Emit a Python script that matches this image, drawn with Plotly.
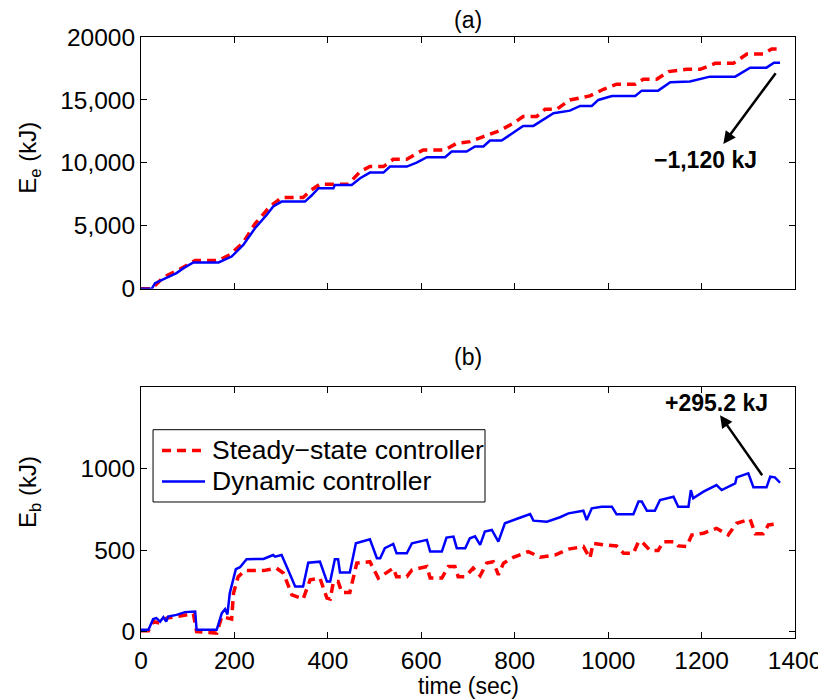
import plotly.graph_objects as go

# ---------------- data ----------------
# (a) cumulative electrical energy E_e (kJ)
t_ss_a = [0, 23, 48, 83, 116, 166, 190, 219, 244, 276, 301, 347, 365, 383, 444, 469, 490, 519, 540,
          569, 604, 651, 676, 704, 733, 768, 797, 818, 847, 865, 890, 918, 961, 990, 1018, 1058, 1075,
          1104, 1129, 1168, 1197, 1229, 1268, 1297, 1332, 1350, 1368]
E_ss_a = [0, 0, 925, 1560, 2250, 2250, 2700, 3680, 5160, 6535, 7250, 7250, 7860, 8310, 8310, 9310, 9710,
          9710, 10290, 10290, 11030, 11030, 11560, 11690, 12090, 12565, 13150, 13680, 13680, 14260, 14260,
          15000, 15320, 15850, 16250, 16250, 16640, 16640, 17250, 17430, 17430, 17910, 17910, 18650, 18650,
          19050, 19050]

t_dyn_a = [0, 23, 30, 48, 76, 91, 112, 166, 183, 194, 219, 244, 269, 283, 301, 351, 365, 380, 412, 415,
           451, 469, 490, 519, 533, 569, 590, 612, 651, 665, 697, 715, 733, 747, 772, 797, 818, 840, 865,
           883, 918, 940, 965, 979, 1008, 1058, 1072, 1107, 1133, 1175, 1218, 1272, 1304, 1339, 1355, 1368]
E_dyn_a = [0, 0, 450, 770, 1245, 1640, 2090, 2090, 2355, 2565, 3490, 4815, 5870, 6535, 6930, 6930, 7410,
           7990, 7990, 8255, 8255, 8785, 9230, 9230, 9710, 9710, 10025, 10450, 10450, 10900, 10900, 11300,
           11300, 11770, 11770, 12435, 12940, 12940, 13545, 13940, 14150, 14525, 14525, 15000, 15320, 15320,
           15740, 15740, 16400, 16460, 16850, 16850, 17565, 17565, 17960, 17960]

# (b) battery energy E_b (kJ)
t_ss_b = [0, 16, 26, 41, 55, 76, 112, 119, 162, 173, 183, 194, 198, 208, 223, 262, 290, 305, 323, 347,
          362, 383, 398, 405, 412, 422, 430, 447, 462, 490, 508, 519, 540, 547, 569, 580, 612, 619, 644,
          658, 672, 679, 694, 711, 726, 740, 754, 765, 776, 797, 829, 854, 886, 915, 947, 961, 968, 990,
          1018, 1033, 1054, 1065, 1072, 1090, 1107, 1118, 1143, 1150, 1168, 1179, 1204, 1232, 1257, 1275,
          1304, 1315, 1332, 1343, 1357]
E_ss_b = [5, 5, 61, 51, 82, 92, 109, 0, -10, 92, 85, 76, 235, 337, 374, 374, 389, 358, 225, 199, 317, 328,
          205, 199, 307, 307, 239, 239, 420, 429, 328, 348, 389, 337, 337, 378, 399, 328, 328, 399, 399,
          337, 337, 389, 342, 420, 429, 348, 420, 456, 491, 456, 470, 506, 522, 450, 542, 532, 526, 481,
          481, 552, 552, 497, 497, 552, 552, 526, 522, 593, 604, 634, 593, 665, 690, 600, 600, 655, 660]

t_dyn_b = [0, 16, 26, 33, 41, 48, 54, 58, 76, 94, 116, 119, 162, 173, 180, 185, 190, 203, 212, 226, 262,
           276, 283, 287, 301, 315, 330, 347, 358, 383, 398, 405, 415, 422, 426, 447, 460, 490, 505, 512,
           522, 540, 547, 569, 580, 612, 619, 644, 654, 669, 676, 694, 704, 715, 726, 736, 751, 765, 779,
           808, 833, 840, 869, 897, 915, 947, 954, 965, 986, 1008, 1018, 1054, 1065, 1072, 1083, 1100,
           1111, 1140, 1150, 1172, 1177, 1182, 1204, 1232, 1243, 1272, 1275, 1300, 1311, 1339, 1347, 1357,
           1368]
E_dyn_b = [10, 10, 76, 82, 61, 88, 61, 92, 102, 119, 123, 10, 10, 113, 137, 105, 235, 383, 395, 444, 446,
           460, 470, 460, 470, 378, 276, 276, 423, 429, 307, 307, 444, 444, 362, 362, 542, 567, 450, 450,
           512, 538, 481, 481, 542, 563, 491, 491, 577, 583, 512, 512, 573, 585, 532, 614, 624, 552, 665,
           696, 722, 681, 675, 702, 726, 742, 685, 757, 767, 767, 720, 720, 798, 798, 742, 742, 808, 828,
           767, 767, 869, 818, 859, 900, 869, 910, 947, 972, 886, 886, 951, 947, 914]

x_ticks = [0, 200, 400, 600, 800, 1000, 1200, 1400]
ya_ticks = [0, 5000, 10000, 15000, 20000]
ya_ticktext = ["0", "5,000", "10,000", "15,000", "20000"]
yb_ticks = [0, 500, 1000]
yb_ticktext = ["0", "500", "1000"]

names = ["Steady\u2212state controller", "Dynamic controller"]
label_a = "\u22121,120 kJ"
label_b = "+295.2 kJ"

# ---------------- figure ----------------
FONT = "Liberation Sans, Arial, Helvetica, sans-serif"
RED = "rgb(255,0,0)"
BLUE = "rgb(0,0,255)"
RED_LINE = dict(color=RED, width=3.5, dash="9px,6px")
BLUE_LINE = dict(color=BLUE, width=2.5)

fig = go.Figure()

fig.add_trace(go.Scatter(x=t_ss_a, y=E_ss_a, mode="lines", name=names[0], showlegend=False,
                         line=RED_LINE, xaxis="x", yaxis="y"))
fig.add_trace(go.Scatter(x=t_dyn_a, y=E_dyn_a, mode="lines", name=names[1], showlegend=False,
                         line=BLUE_LINE, xaxis="x", yaxis="y"))
fig.add_trace(go.Scatter(x=t_ss_b, y=E_ss_b, mode="lines", name=names[0], showlegend=False,
                         line=RED_LINE, xaxis="x2", yaxis="y2"))
fig.add_trace(go.Scatter(x=t_dyn_b, y=E_dyn_b, mode="lines", name=names[1], showlegend=False,
                         line=BLUE_LINE, xaxis="x2", yaxis="y2"))

axis_common = dict(showline=True, linecolor="black", linewidth=1, mirror="ticks", ticks="inside",
                   ticklen=6, tickcolor="black", showgrid=False, zeroline=False,
                   automargin=False, ticklabeloverflow="allow",
                   tickfont=dict(family=FONT, size=24.5, color="black"))

# page body has an 8px margin: figure is 818x692 so it fits the 826x700 window
fig.update_layout(
    width=818, height=692, autosize=False,
    paper_bgcolor="white", plot_bgcolor="white",
    margin=dict(l=133, r=31, t=29, b=62, autoexpand=False),
    font=dict(family=FONT, color="black"),
    showlegend=False,
    xaxis=dict(domain=[0, 1], anchor="y", range=[0, 1400], tickvals=x_ticks,
               showticklabels=False, **axis_common),
    yaxis=dict(domain=[0.581, 1], anchor="x", range=[0, 20000], tickvals=ya_ticks,
               ticktext=ya_ticktext, **axis_common),
    xaxis2=dict(domain=[0, 1], anchor="y2", range=[0, 1400], tickvals=x_ticks,
                ticklabelstandoff=1, **axis_common),
    yaxis2=dict(domain=[0, 0.417], anchor="x2", range=[-40, 1500], tickvals=yb_ticks,
                ticktext=yb_ticktext, **axis_common),
)

# legend drawn as a boxed key in panel (b)
LX0, LX1, LY0, LY1 = 0.0184, 0.526, 0.2263, 0.3466
SX0, SX1, TX = 0.0321, 0.0979, 0.1055
ROW_Y = [0.3121, 0.2606]
shapes = [
    dict(type="rect", xref="paper", yref="paper", x0=LX0, x1=LX1, y0=LY0, y1=LY1,
         line=dict(color="black", width=1), fillcolor="white", layer="above"),
    dict(type="line", xref="paper", yref="paper", x0=SX0, x1=SX1, y0=ROW_Y[0], y1=ROW_Y[0],
         line=RED_LINE, layer="above"),
    dict(type="line", xref="paper", yref="paper", x0=SX0, x1=SX1, y0=ROW_Y[1], y1=ROW_Y[1],
         line=BLUE_LINE, layer="above"),
]
fig.update_layout(shapes=shapes)

annotations = [
    # arrows
    dict(x=1246.6, y=11509, ax=1361, ay=17248, xref="x", yref="y", axref="x", ayref="y",
         text="", showarrow=True, arrowhead=2, arrowsize=1, arrowwidth=2.5, arrowcolor="black"),
    dict(x=1239.6, y=1329, ax=1332, ay=951, xref="x2", yref="y2", axref="x2", ayref="y2",
         text="", showarrow=True, arrowhead=2, arrowsize=1, arrowwidth=2.5, arrowcolor="black"),
    # arrow labels
    dict(x=1209, y=10239, xref="x", yref="y", text="<b>" + label_a + "</b>", showarrow=False,
         font=dict(family=FONT, size=23, color="black"), xanchor="center", yanchor="middle"),
    dict(x=1232.5, y=1403, xref="x2", yref="y2", text="<b>" + label_b + "</b>", showarrow=False,
         font=dict(family=FONT, size=23, color="black"), xanchor="center", yanchor="middle"),
    # legend texts
    dict(x=TX, y=ROW_Y[0], xref="paper", yref="paper", text=names[0], showarrow=False,
         font=dict(family=FONT, size=26.5, color="black"), xanchor="left", yanchor="middle"),
    dict(x=TX, y=ROW_Y[1], xref="paper", yref="paper", text=names[1], showarrow=False,
         font=dict(family=FONT, size=26.5, color="black"), xanchor="left", yanchor="middle"),
    # panel titles
    dict(x=0.5, y=1.028, xref="paper", yref="paper", text="(a)", showarrow=False,
         font=dict(family=FONT, size=23, color="black"), xanchor="center", yanchor="middle"),
    dict(x=0.5, y=0.467, xref="paper", yref="paper", text="(b)", showarrow=False,
         font=dict(family=FONT, size=23, color="black"), xanchor="center", yanchor="middle"),
    # axis titles
    dict(x=-0.1697, y=0.799, xref="paper", yref="paper", text="E<sub>e</sub> (kJ)", showarrow=False,
         textangle=-90, font=dict(family=FONT, size=24, color="black"), xanchor="center", yanchor="middle"),
    dict(x=-0.1697, y=0.243, xref="paper", yref="paper", text="E<sub>b</sub> (kJ)", showarrow=False,
         textangle=-90, font=dict(family=FONT, size=24, color="black"), xanchor="center", yanchor="middle"),
    dict(x=0.5, y=-0.08, xref="paper", yref="paper", text="time (sec)", showarrow=False,
         font=dict(family=FONT, size=23, color="black"), xanchor="center", yanchor="middle"),
]
fig.update_layout(annotations=annotations)

fig.write_html("out.html")
